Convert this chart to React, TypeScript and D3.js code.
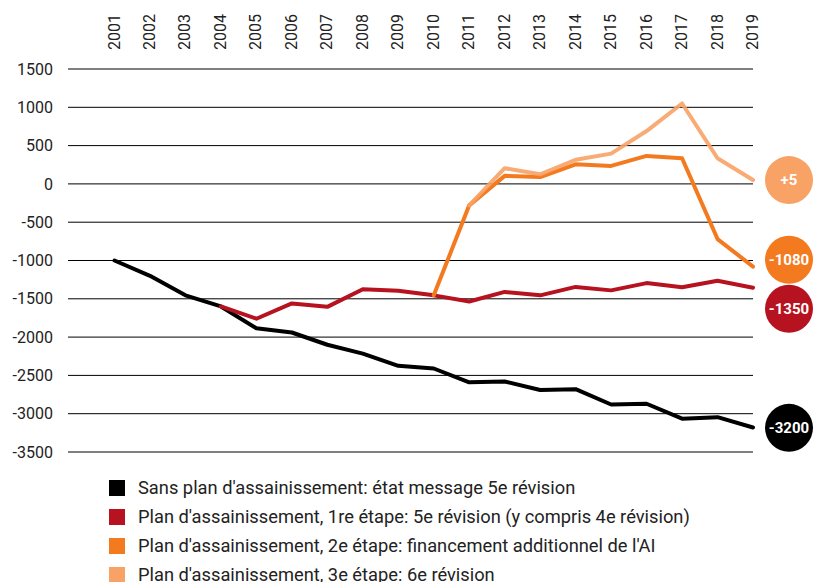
import React from 'react';
import * as d3 from 'd3';

const YEARS = [2001, 2002, 2003, 2004, 2005, 2006, 2007, 2008, 2009, 2010, 2011, 2012, 2013, 2014, 2015, 2016, 2017, 2018, 2019];
const Y_TICKS = [1500, 1000, 500, 0, -500, -1000, -1500, -2000, -2500, -3000, -3500];

// null = no value that year
const SANS_PLAN = [-1000, -1200, -1455, -1600, -1885, -1940, -2100, -2215, -2375, -2410, -2590, -2580, -2690, -2680, -2880, -2870, -3065, -3045, -3180];
const ETAPE_1 = [null, null, null, -1600, -1760, -1560, -1605, -1375, -1395, -1455, -1535, -1410, -1455, -1345, -1390, -1295, -1350, -1265, -1355];
const ETAPE_2 = [null, null, null, null, null, null, null, null, null, -1455, -280, 105, 90, 255, 235, 365, 335, -720, -1080];
const ETAPE_3 = [null, null, null, null, null, null, null, null, null, null, -280, 205, 125, 315, 395, 690, 1050, 335, 50];

const END_LABELS = ['-3200', '-1350', '-1080', '+5'];
// where the end bubbles sit, in data units (shifted so they don't overlap)
const END_LABEL_AT = [-3185, -1630, -990, 50];

const LEGEND = [
  "Sans plan d'assainissement: état message 5e révision",
  "Plan d'assainissement, 1re étape: 5e révision (y compris 4e révision)",
  "Plan d'assainissement, 2e étape: financement additionnel de l'AI",
  "Plan d'assainissement, 3e étape: 6e révision",
];

const COLORS = ['#000000', '#b7121f', '#f47a20', '#f8a266'];
const SERIES = [SANS_PLAN, ETAPE_1, ETAPE_2, ETAPE_3];

export default function App() {
  const width = 813;
  const height = 582;
  const x = d3.scaleLinear().domain([2001, 2019]).range([114.5, 753]);
  const y = d3.scaleLinear().domain([-3500, 1500]).range([452, 69]);
  const line = d3.line<number | null>()
    .defined(d => d !== null)
    .x((_, i) => x(YEARS[i]))
    .y(d => y(d as number));

  const font = 'Roboto, "Noto Sans", sans-serif';

  return (
    <svg width={width} height={height} style={{ position: 'absolute', left: 0, top: 0, background: '#fff' }}>
      {Y_TICKS.map(t => (
        <g key={t}>
          <line x1={68} x2={753} y1={y(t)} y2={y(t)} stroke="#000" strokeWidth={1} />
          <text x={53} y={y(t)} dy="0.35em" textAnchor="end" fontFamily={font} fontSize={16} fill="#222">{t}</text>
        </g>
      ))}
      {YEARS.map(yr => (
        <text key={yr} transform={`translate(${x(yr) + 5},50) rotate(-90)`} textAnchor="start" fontFamily={font} fontSize={16} fill="#222">
          {yr}
        </text>
      ))}
      {SERIES.map((s, i) => (
        <path key={i} d={line(s) || ''} fill="none" stroke={COLORS[i]} strokeWidth={4}
          strokeLinejoin="round" strokeLinecap="round" opacity={i === 3 ? 0.9 : 1} />
      ))}
      {END_LABELS.map((lbl, i) => (
        <g key={lbl} transform={`translate(789,${y(END_LABEL_AT[i])})`}>
          <circle r={24} fill={COLORS[i]} />
          <text dy="0.35em" textAnchor="middle" fontFamily={font} fontWeight="bold" fontSize={15} fill="#fff">{lbl}</text>
        </g>
      ))}
      {LEGEND.map((l, i) => (
        <g key={l} transform={`translate(109,${488 + i * 29})`}>
          <rect x={0} y={-8} width={16} height={16} fill={COLORS[i]} />
          <text x={29} dy="0.35em" fontFamily={font} fontSize={18.3} fill="#222">{l}</text>
        </g>
      ))}
    </svg>
  );
}
